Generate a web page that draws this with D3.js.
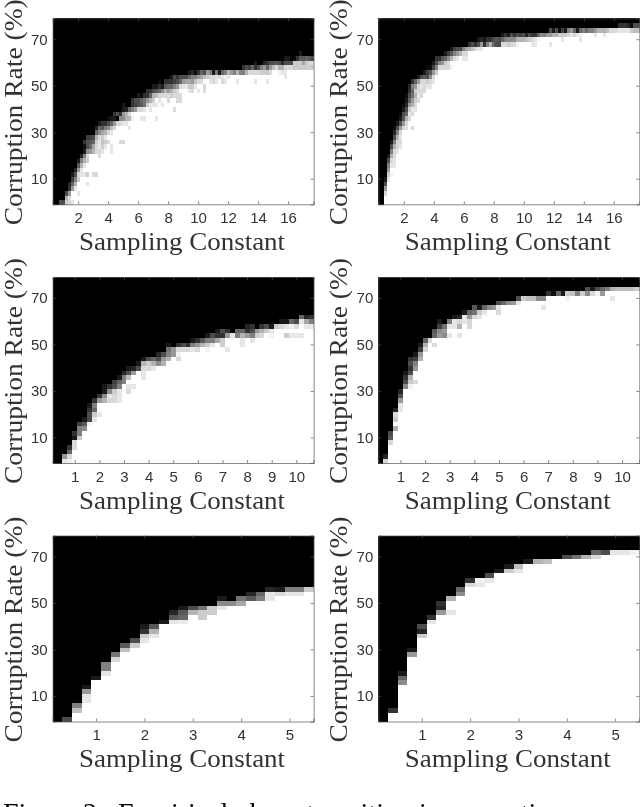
<!DOCTYPE html>
<html>
<head>
<meta charset="utf-8">
<script src="https://cdnjs.cloudflare.com/ajax/libs/d3/7.8.5/d3.min.js"></script>
<style>
html, body { margin: 0; padding: 0; background: #fff; overflow: hidden; }
svg { display: block; filter: blur(0.5px); }
</style>
</head>
<body>
<div id="chart"></div>
<script>
// each column of a panel: flat [row, value, row, value ...].
// value = success rate (1 white, 0 black). rows below the listed ones are white, rows above black.
var panelA = [
[0,0],[0,0],[0,.3],[0,.3],[0,.8,1,.7,2,.3],[0,.85,1,.85,2,.6,3,.2,4,.15],[0,.9,3,.6,4,.4,5,.25,6,.1],[3,.9,4,.7,5,.5,6,.3,7,.15],
[2,.9,5,.8,6,.85,7,.6,8,.35,9,.1],[6,.9,7,.9,8,.7,9,.5,10,.15],[6,.9,8,.9,9,.7,10,.5,11,.1,12,.05,13,.2],[4,.9,6,.8,9,.8,10,.85,11,.55,12,.3,13,.3,14,.25],[11,.6,12,.4,13,.35,14,.25],
[6,.85,11,.7,12,.65,13,.4,14,.3],[6,.85,11,.85,12,.85,13,.8,14,.7,15,.4,16,.15],[10,.85,11,.85,12,.9,13,.9,14,.85,15,.55,16,.4,17,.1],[11,.9,12,.8,13,.75,14,.8,15,.65,16,.35,17,.2],[12,.9,13,.8,14,.9,15,.7,16,.5,17,.2],
[13,.85,15,.85,16,.55,17,.3,18,.05],[11,.9,12,.9,15,.9,16,.75,17,.4,18,.1],[16,.85,17,.6,18,.1,19,.2],[17,.85,18,0,19,.3],[13,.85,17,.85,18,.55,19,.2],[13,.85,17,.9,18,.55,19,.6,20,.1,21,.1],
[17,.9,18,.7,19,.7,20,.15],[16,.9,18,.7,19,.85,20,.4],[18,.95,20,.5,21,.2,22,.2],[20,.6,21,.25,22,.3],[20,.85,21,.3,22,.3,23,.1],[18,.9,20,.85,21,.35,22,.4,23,.05],[18,.9,20,.9,21,.45,22,.45,23,.2],
[21,.8,22,.6,23,.2,24,.2],[20,.9,21,.9,22,.7,23,.4,24,.2],[21,.9,22,.8,23,.7,24,.3,25,.1],[18,.9,21,.9,23,.75,24,.35,25,.1],[22,.9,23,.85,24,.4,25,.2,26,.05],[21,.9,23,.85,24,.55,25,.1],[23,.85,24,.7,25,.35,26,.2],
[22,.85,23,.85,24,.6,25,.4,26,.2],[23,.8,24,.7,25,.4,26,.2,27,.1],[20,.85,23,.85,24,.8,25,.5,26,.25,27,.3],[22,.85,23,.85,24,.85,25,.6,26,.3,27,.2],[22,.85,23,.85,25,.85,26,.4,27,.3],[25,.9,26,.6,27,.3],[25,.9,26,.65,27,.3],
[24,.9,25,.8,26,.65,27,.4,28,.1],[24,.85,25,.8,26,.6,27,.5,28,.15],[25,.9,26,.75,27,.5,28,.05],[24,.9,26,.85,27,.6,28,.2],[26,.85,27,.65,28,.4],[24,.85,25,.85,27,.75,28,.3],[27,.8,28,.6],[26,.9,27,.85,28,.5],[26,.85,27,.85,28,.1],
[26,.9,27,.9,28,.45],[27,.85,28,.1],[26,.85,27,.9,28,.4],[26,.9,27,.95,28,.5],[27,.9,28,.7],[28,.6],[28,.5],[26,.9,28,.7],[28,.5],[28,.5,29,.2],[28,.7,29,.3],[28,.85,29,.25],[28,.85,29,.4],[26,.9,28,.85,29,.2,30,.1],[28,.85,29,.3],
[28,.8,29,.5],[28,.8,29,.6,30,.15],[26,.9,28,.8,29,.4,30,.2],[28,.85,29,.6,30,.3],[29,.75,30,.3],[29,.85,30,.35],[28,.95,29,.7,30,.3],[28,.9,29,.7,30,.15],[27,.9,28,.9,29,.85,30,.3,31,.1],[29,.85,30,.3,31,.1],[29,.85,30,.3],
[29,.8,30,.8,31,.05],[29,.8,30,.8,31,.2],[29,.8,30,.8,31,.35,32,.1],[29,.8,30,.65,31,.35],[29,.8,30,.8,31,.4],[29,.8,30,.85,31,.35],[29,.8,30,.85,31,.3]
];

var panelB = [
[0,0],[0,0],[2,.85,3,.6,4,.3,5,.1],[5,.9,6,.8,7,.6,8,.5,9,.3,10,.1],[6,.95,8,.9,9,.85,10,.7,11,.5,12,.3,13,.1],[8,.9,9,.9,10,.85,11,.85,12,.7,13,.5,14,.3,15,.15,16,.05],[11,.9,12,.85,13,.85,14,.7,15,.5,16,.3,17,.1],[12,.9,13,.85,14,.9,15,.85,16,.6,17,.3,18,.1,19,.05],
[16,.85,17,.6,18,.35,19,.3,20,.1,21,.05],[16,.9,17,.85,18,.7,19,.4,20,.3,21,.15,22,.1,23,.05],[18,.85,19,.9,20,.8,21,.6,22,.4,23,.3,24,.2,25,.15],[16,.85,19,.85,20,.9,21,.7,22,.6,23,.45,24,.4,25,.5,26,.2],[20,.9,21,.85,22,.8,23,.7,24,.8,25,.6,26,.4],[22,.85,23,.9,24,.85,25,.85,26,.6,27,.1],[23,.85,24,.85,25,.9,26,.85,27,.3],[24,.85,25,.85,26,.85,27,.35,28,.1],
[25,.9,26,.8,27,.3,28,.25,29,.05],[25,.9,26,.85,27,.55,28,.35,29,.05],[26,.9,27,.85,28,.6,29,.25,30,.1],[28,.8,29,.5,30,.3,31,.2],[29,.85,30,.5,31,.2],[29,.85,30,.6,31,.35],[29,.85,30,.8,31,.4,32,.1],[29,.85,30,.85,31,.55,32,.25],[29,.95,31,.7,32,.35,33,.1],
[31,.85,32,.5,33,.25],[31,.9,32,.6,33,.3],[32,.7,33,.3],[31,.9,32,.85,33,.5],[31,.9,32,.85,33,.65],[33,.7,34,.2],[33,.75,34,.3],[33,.85,34,.2],[33,.9,34,.3,35,.1],
[33,.9,34,.6,35,.15],[34,.2,35,.1],[34,.5,35,.2],[34,.7,35,.2],[34,.4,35,.3],[34,.3,35,.35],[34,.3,35,.3],[34,.85,35,.4,36,.1],[34,.85,35,.5,36,.2],[34,.8,35,.55,36,.1],[34,.85,35,.55,36,.3],[34,.85,35,.55,36,.2],[34,.95,35,.7,36,.3],
[35,.7,36,.25],[35,.7,36,.3],[35,.75,36,.15],[35,.8,36,.3],[34,.9,35,.85,36,.2],[34,.9,35,.9,36,.2],[35,.95,36,.4],[36,.55],[36,.5],[36,.6],[34,.9,36,.6,37,.3],[36,.7,37,.1],[36,.7,37,.3],[36,.8,37,.05],[35,.9,36,.8,37,.25],[36,.8,37,.1],
[36,.85,37,.5],[36,.9,37,.6],[36,.85,37,.4],[36,.9,37,.1],[35,.9,36,.95,37,.4],[37,.5],[37,.4],[37,.5],[37,.5],[36,.9,37,.6],[37,.7],[37,.7],[36,.9,37,.7],[37,.75],[37,.85],[37,.85],[37,.85],[37,.9,38,.2],[37,.9,38,.2],[37,.9,38,.2],[37,.9,38,.15],[37,.8,38,.05],[37,.75,38,.3],[37,.75,38,.3]
];

var panelC = [
[0,0],[0,0],[0,.9,1,.6],[0,.95,1,.85,2,.4,3,.2],[3,.85,4,.85,5,.1,6,.2],[5,.8,6,.5,7,.5,8,.25],[7,.55,8,.35,9,.1],[8,.95,9,.3,10,.3,11,.2,12,.1],[9,.9,10,.8,11,.4,12,.5,13,.2],[10,.9,13,.6,14,.2],
[13,.7,14,.55,15,.1,16,.1],[13,.85,14,.9,15,.55,16,.2],[13,.85,14,.85,15,.8,16,.3,17,.25],[13,.9,14,.9,15,.9,16,.5,17,.4,18,.1],[17,.5,18,.5,19,.15],[15,.85,16,.9,18,.75,19,.3,20,.1],[16,.9,19,.6,20,.15],[20,.3,21,.1],
[18,.9,19,.9,20,.85,21,.7,22,.1],[20,.85,21,.8,22,.3],[20,.9,21,.7,22,.4],[21,.55,22,.3,23,.15],[21,.7,22,.6,23,.3],[22,.7,23,.5,24,.45,25,.1],[23,.6,24,.6],[22,.85,23,.95,24,.85,25,.2],[24,.85,25,.3],[24,.85,25,.2],[24,.9,25,.5,26,.1],[24,.85,25,.6,26,.2],
[25,.7,26,.35],[24,.95,25,.8,26,.5,27,.1],[25,.9,26,.5,27,.3],[26,.65,27,.2,28,.1],[25,.8,26,.8,27,.2,28,.3],[24,.9,27,.6,28,.2],[27,.9],[27,.5,28,.4],[25,.9,26,.9,27,.7,28,.4],[27,.6,28,.2,29,.15],[26,.9,27,.5,28,.3,29,.2],[27,.8,28,.6],[27,.85,28,.7,29,.2],[28,.8,29,.3],
[27,.95,28,.9,29,.1],[29,.8],[29,.85,30,.1],[27,.8,29,.9,30,.1],[27,.9,29,.95,30,.4],[27,.9,29,.85,30,.3],[27,.9,30,.9,31,.4],[29,.9,30,.65,31,.15],[29,.9,30,.5,31,.2]
];

var panelD = [
[0,0],[0,.85,1,.15],[4,.85,5,.35,6,.3],[7,.7,9,.8,10,.85,11,.15],[11,.9,12,.9,13,.6,14,.3,15,.15],[16,.55,17,.3,18,.2,19,.1],[16,.95,17,.8,18,.7,19,.3,20,.2,21,.3,22,.2],[17,.85,20,.6,21,.5,22,.25,23,.1],[22,.7,23,.6,24,.25,25,.1],[24,.85,25,.7,26,.4],[26,.85],
[25,.85,27,.4,28,.35],[27,.6,28,.55,29,.25,30,.1],[27,.55,28,.6,29,.45],[27,.9,29,.9,30,.5],[29,.9,30,.9,31,.1],[27,.9,29,.7,30,.85,31,.15],[30,.9,31,.9,32,.1],[29,.85,30,.85,31,.6,32,.4],[31,.85,32,.45,33,.35],[31,.9,32,.8,33,.1],[32,.9,33,.4],[33,.55],[33,.6],[32,.85,33,.9,34,.3],[34,.4],[34,.55],[34,.6],
[34,.9,35,.3],[35,.8],[35,.75],[35,.75],[35,.55],[33,.9,35,.55],[36,.2],[36,.05],[36,.4],[36,.1],[35,.95,36,.8],[36,.75],[36,.5],[36,.8],[36,.55,37,.3],[36,.85,37,.1],[36,.95,37,.3],[36,.6,37,.4],[37,.5],[35,.9,37,.7],[37,.75],[37,.75],[37,.75],[37,.75],[37,.8]
];

var panelE = [
[0,0],[0,.3],[2,.75,3,.5],[4,.9,5,.9,6,.6,7,.1],[9,.1],[10,.9,11,.5,12,.5],[13,.85,14,.45],[15,.75,16,.35],[16,.8,17,.3],[17,.9,18,.8,19,.2,20,.1],[18,.9,19,.7,20,.35],[21,.1],[21,.9,22,.35,23,.15],[21,.92,22,.4,23,.35,24,.1],
[23,.7,24,.3],[22,.8,23,.8,24,.45],[23,.8,24,.8],[24,.9,25,.55,26,.1],[25,.55],[25,.65,26,.45],[26,.35,27,.15],[26,.5,27,.4],[26,.9,27,.9,28,.15],[27,.85,28,.1],[27,.9,28,.5],[27,.9,28,.5],[28,.8]
];

var panelF = [
[0,0],[2,.2],[8,.55,9,.4,10,.1],[14,.6,15,.1],[18,.8,19,.15,20,.3],[21,.9,22,.2],[23,.6,24,.15,25,.2],[23,.9,26,.7],[27,.55,28,.4],[29,.85,30,.2],[29,.9,30,.95],[30,.9,31,.3],[32,.1],[32,.8,33,.1],[32,.9,33,.75],[34,.1],[34,.7],[34,.75],[35,0],[35,.3],[35,.45],[35,.7],[35,.85,36,.4],[36,.3],[36,.9],[36,.9],[36,.95]
];

var xTicksLong = [2, 4, 6, 8, 10, 12, 14, 16];
var xTicksMid = [1, 2, 3, 4, 5, 6, 7, 8, 9, 10];
var xTicksShort = [1, 2, 3, 4, 5];
var yTicks = [10, 30, 50, 70];

var xLimits = [[0.3, 17.7], [0.1, 10.7], [0.1, 5.5]]; // per figure row
var xStarts = [0.4, 0.2, 0.2];
var step = 0.2, rowStep = 2, rowCount = 40;

var panels = [
  {cols: panelA, row: 0, left: 52.6, top: 18.3, ticks: xTicksLong},
  {cols: panelB, row: 0, left: 378.3, top: 18.3, ticks: xTicksLong},
  {cols: panelC, row: 1, left: 52.6, top: 277, ticks: xTicksMid},
  {cols: panelD, row: 1, left: 378.3, top: 277, ticks: xTicksMid},
  {cols: panelE, row: 2, left: 52.6, top: 535.5, ticks: xTicksShort},
  {cols: panelF, row: 2, left: 378.3, top: 535.5, ticks: xTicksShort}
];

var w = 261, h = 186;
var grey = d3.scaleLinear().domain([0, 1]).range(["#000", "#fff"]);

var svg = d3.select("#chart").append("svg")
    .attr("width", 640)
    .attr("height", 807);

panels.forEach(function(p) {
  var x = d3.scaleLinear().domain(xLimits[p.row]).range([0, w]);
  var y = d3.scaleLinear().domain([-1, 79]).range([h, 0]);

  var g = svg.append("g").attr("transform", "translate(" + p.left + "," + p.top + ")");

  // expand the column lists to cells
  var cells = [];
  p.cols.forEach(function(col, c) {
    var vals = d3.range(rowCount).map(function() { return 1; });
    var last = 0;
    for (var i = 0; i < col.length; i += 2) {
      vals[col[i]] = col[i + 1];
      last = col[i];
    }
    for (var r = last + 1; r < rowCount; r++) vals[r] = 0;
    vals.forEach(function(v, r) {
      cells.push({x: xStarts[p.row] + c * step, y: r * rowStep, v: v});
    });
  });

  g.append("g").selectAll("rect")
      .data(cells)
      .enter().append("rect")
      .attr("x", function(d) { return x(d.x - step / 2); })
      .attr("y", function(d) { return y(d.y + rowStep / 2); })
      .attr("width", x(step) - x(0) + 0.5)
      .attr("height", y(0) - y(rowStep) + 0.5)
      .attr("shape-rendering", "crispEdges")
      .style("fill", function(d) { return grey(d.v); });

  // matlab style box: ticks inside on all four sides
  g.append("g").attr("transform", "translate(0," + h + ")")
      .call(d3.axisBottom(x).tickValues(p.ticks).tickFormat(d3.format("d")).tickSize(-3).tickPadding(8));
  g.append("g")
      .call(d3.axisLeft(y).tickValues(yTicks).tickSize(-3).tickPadding(5));
  g.append("g").call(d3.axisTop(x).tickValues(p.ticks).tickSize(-3).tickFormat(""));
  g.append("g").attr("transform", "translate(" + w + ",0)")
      .call(d3.axisRight(y).tickValues(yTicks).tickSize(-3).tickFormat(""));

  g.selectAll(".domain, .tick line").attr("stroke", "#555").attr("stroke-width", 0.7);
  g.selectAll(".tick text")
      .style("font-family", "'Liberation Sans', sans-serif")
      .style("font-size", "15px")
      .style("fill", "#333");

  g.append("text")
      .attr("x", w / 2 - 1)
      .attr("y", h + 45.5)
      .attr("text-anchor", "middle")
      .attr("textLength", 206)
      .attr("lengthAdjust", "spacingAndGlyphs")
      .style("font-family", "'Liberation Serif', serif")
      .style("font-size", "25px")
      .style("fill", "#333")
      .text("Sampling Constant");

  g.append("text")
      .attr("transform", "translate(-31," + (h / 2 + 1) + ") rotate(-90)")
      .attr("text-anchor", "middle")
      .attr("textLength", 226)
      .attr("lengthAdjust", "spacingAndGlyphs")
      .style("font-family", "'Liberation Serif', serif")
      .style("font-size", "25px")
      .style("fill", "#333")
      .text("Corruption Rate (%)");
});

// figure caption, cut off by the bottom of the picture
svg.append("text").attr("x", 3).attr("y", 822)
    .style("font-family", "'Liberation Serif', serif").style("font-size", "28px")
    .text("Figure 2:");
svg.append("text").attr("x", 118).attr("y", 822)
    .style("font-family", "'Liberation Serif', serif").style("font-size", "28px")
    .text("Empirical phase transition in corruption");
</script>
</body>
</html>
